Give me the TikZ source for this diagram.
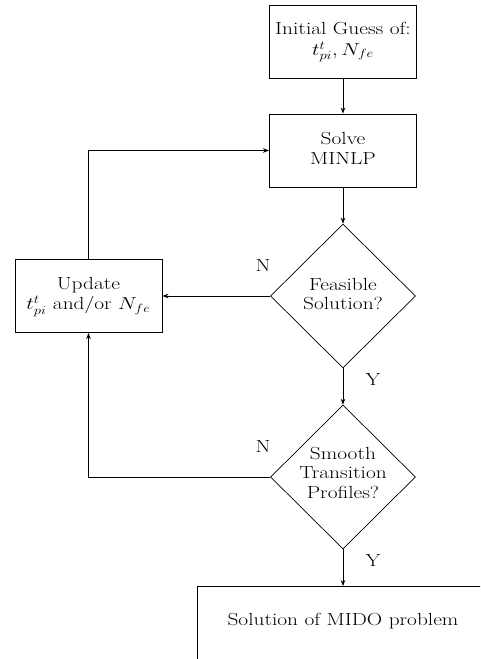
\documentclass[tikz,border=0pt]{standalone}
\usetikzlibrary{shapes.geometric,arrows.meta}
\usepackage{graphicx}
% text is set slightly wider than tall
\newcommand\widetext[1]{\scalebox{1.22}[1]{\begin{tabular}{@{}c@{}}#1\end{tabular}}}
\begin{document}
\begin{tikzpicture}[x=1pt,y=-1pt,
  every node/.style={font=\fontsize{17.5}{19.5}\selectfont},
  box/.style={draw,line width=0.9pt,minimum width=147pt,minimum height=73pt,align=center,inner sep=0pt},
  dia/.style={draw,shape=diamond,line width=0.7pt,minimum width=145pt,minimum height=144pt,inner sep=0pt},
  txt/.style={align=center,inner sep=0pt},
  conn/.style={line width=0.8pt,-{Stealth[length=6pt,width=4.5pt]}},
  lbl/.style={inner sep=0pt}]
  \useasboundingbox (0,0) rectangle (480,659);
  \clip (0,0) rectangle (480,659);

  % process boxes
  \node[box] (init) at (343,41.5) {\widetext{Initial Guess of:\\[1pt]$t^{t}_{pi}, N_{fe}$}};
  \node[box] (solve) at (343,150.5) {\widetext{Solve\\MINLP}};
  \node[box] (upd) at (88.5,296) {\widetext{Update\\[1pt]$t^{t}_{pi}$ and/or $N_{fe}$}};

  % decisions
  \node[dia] (feas) at (343,296) {};
  \node[txt] at (feas) {\widetext{Feasible\\Solution?}};
  \node[dia] (smooth) at (343,477) {};
  \node[txt] at ([yshift=2pt]smooth.center) {\widetext{Smooth\\Transition\\Profiles?}};

  % final result box (extends past the frame)
  \node[draw,line width=0.9pt,anchor=north west,minimum width=320pt,minimum height=100pt,inner sep=0pt] (fin) at (197,586) {};
  \node[txt] (fintxt) at (343,622) {\widetext{Solution of MIDO problem}};

  % connectors
  \draw[conn] (init.south) -- (solve.north);
  \draw[conn] (solve.south) -- (feas.north);
  \draw[conn] (feas.west) -- (upd.east);
  \draw[conn] (feas.south) -- (smooth.north);
  \draw[conn] (upd.north) |- (solve.west);
  \draw[conn] (smooth.west) -| (upd.south);
  \draw[conn] (smooth.south) -- (smooth.south |- fin.north);

  % branch labels
  \node[lbl] (n1) at (263,268) {\widetext{N}};
  \node[lbl] (y1) at (373,382) {\widetext{Y}};
  \node[lbl] (n2) at (263,449) {\widetext{N}};
  \node[lbl] (y2) at (373,563) {\widetext{Y}};
\end{tikzpicture}
\end{document}
